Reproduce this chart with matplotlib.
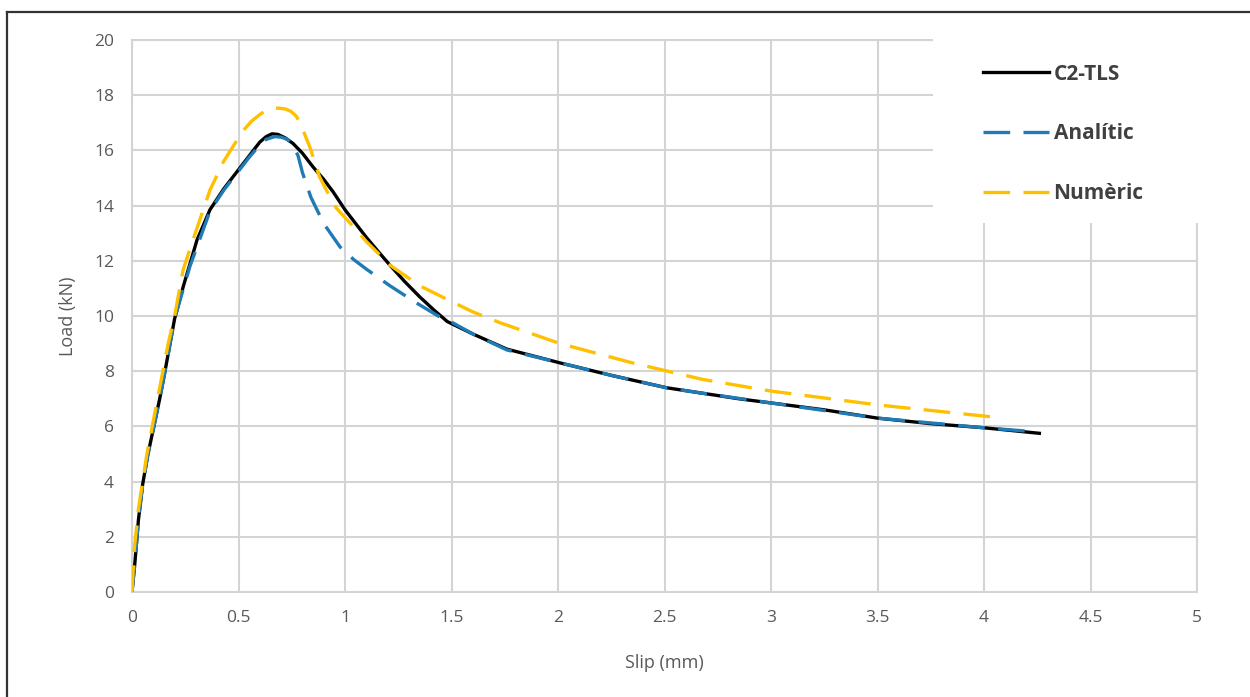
import matplotlib.pyplot as plt
from matplotlib.lines import Line2D
from matplotlib.patches import Rectangle

# data
slip_test = [0, 0.014, 0.03, 0.05, 0.075, 0.1, 0.13, 0.155, 0.2, 0.24, 0.305,
             0.366, 0.43, 0.49, 0.55, 0.6, 0.63, 0.657, 0.685, 0.72, 0.756,
             0.8, 0.85, 0.9, 0.944, 1.0, 1.05, 1.1, 1.16, 1.21, 1.28, 1.35,
             1.42, 1.48, 1.6, 1.76, 2.01, 2.25, 2.51, 2.68, 2.85, 3.0, 3.25,
             3.5, 3.75, 4.0, 4.26]
load_test = [0, 1.1, 2.6, 3.9, 5.0, 5.9, 7.0, 8.0, 9.9, 11.05, 12.75,
             13.85, 14.6, 15.2, 15.8, 16.3, 16.5, 16.6, 16.58, 16.45, 16.25,
             15.9, 15.4, 14.95, 14.5, 13.85, 13.35, 12.85, 12.3, 11.85, 11.25, 10.7,
             10.2, 9.8, 9.35, 8.8, 8.3, 7.85, 7.4, 7.2, 7.0, 6.85, 6.6,
             6.3, 6.1, 5.95, 5.75]

slip_anal = [0, 0.014, 0.03, 0.05, 0.075, 0.1, 0.13, 0.155, 0.2, 0.272, 0.366,
             0.43, 0.49, 0.55, 0.6, 0.63, 0.67, 0.7, 0.73, 0.755, 0.78, 0.80,
             0.84, 0.9, 0.977, 1.04, 1.1, 1.21, 1.33, 1.446, 1.5, 1.6, 1.76,
             2.01, 2.25, 2.51, 2.68, 3.0, 3.5, 4.0, 4.25]
load_anal = [0, 1.1, 2.6, 3.9, 5.0, 5.9, 7.0, 8.0, 9.9, 11.8, 13.8,
             14.55, 15.15, 15.75, 16.2, 16.4, 16.5, 16.48, 16.4, 16.2, 15.8, 15.2,
             14.3, 13.35, 12.5, 12.05, 11.7, 11.1, 10.5, 9.96, 9.78, 9.35, 8.77,
             8.3, 7.85, 7.4, 7.2, 6.85, 6.3, 5.95, 5.8]

slip_num = [0, 0.01, 0.03, 0.07, 0.12, 0.17, 0.2, 0.24, 0.286, 0.366, 0.43,
            0.52, 0.56, 0.6, 0.63, 0.66, 0.69, 0.72, 0.745, 0.77, 0.79, 0.81,
            0.836, 0.88, 0.93, 0.96, 1.02, 1.1, 1.21, 1.35, 1.48, 1.6, 1.73,
            2.01, 2.35, 2.68, 3.0, 3.5, 4.03]
load_num = [0, 1.5, 3.0, 5.0, 7.0, 9.0, 10.0, 11.67, 12.75, 14.56, 15.6,
            16.7, 17.05, 17.3, 17.45, 17.52, 17.53, 17.5, 17.42, 17.25, 17.0, 16.6,
            16.1, 15.05, 14.3, 13.9, 13.4, 12.7, 11.85, 11.1, 10.6, 10.15, 9.75,
            9.0, 8.3, 7.7, 7.28, 6.78, 6.35]

labels = ['C2-TLS', 'Analític', 'Numèric']
colors = ['#000000', '#1f7bb6', '#ffc000']

plt.rcParams['font.family'] = ['Open Sans', 'DejaVu Sans']

fig = plt.figure(figsize=(12.5, 6.97), dpi=100)
ax = fig.add_axes([132 / 1250, 1 - 592 / 697, 1065 / 1250, 552 / 697])

ax.plot(slip_test, load_test, color=colors[0], lw=2.4, label=labels[0], zorder=3)
ax.plot(slip_anal, load_anal, color=colors[1], lw=2.4, dashes=(8, 4),
        label=labels[1], zorder=4)
ax.plot(slip_num, load_num, color=colors[2], lw=2.4, dashes=(8, 4),
        label=labels[2], zorder=5)

ax.set_xlim(0, 5)
ax.set_ylim(0, 20)
ax.set_xticks([0, 0.5, 1, 1.5, 2, 2.5, 3, 3.5, 4, 4.5, 5])
ax.set_xticklabels(['0', '0.5', '1', '1.5', '2', '2.5', '3', '3.5', '4', '4.5', '5'])
ax.set_yticks(range(0, 21, 2))

# grid
ax.grid(True, color='#d4d4d4', lw=1.5, zorder=0)
ax.set_axisbelow(True)
for s in ax.spines.values():
    s.set_color('#d4d4d4')
    s.set_linewidth(1.5)
ax.tick_params(length=0, labelsize=12.5, colors='#595959', pad=13)

ax.set_xlabel('Slip (mm)', fontsize=13, color='#595959', labelpad=20)
ax.set_ylabel('Load (kN)', fontsize=13, color='#595959', labelpad=12)

# white box behind legend, covers the grid
box = Rectangle((933 / 1250, 1 - 223 / 697), 280 / 1250, 200 / 697,
                transform=fig.transFigure, facecolor='white', edgecolor='none',
                zorder=10)
fig.add_artist(box)

leg = fig.legend(loc='upper left', bbox_to_anchor=(964 / 1250, 1 - 45 / 697),
                 frameon=False, fontsize=15, handlelength=3.2,
                 handletextpad=0.2, labelspacing=1.85)
leg.set_zorder(11)
for t in leg.get_texts():
    t.set_fontweight('bold')
    t.set_color('#404040')

# outer frame
fig.add_artist(Line2D([7 / 1250, 7 / 1250], [0, 1 - 12 / 697], color='#333333', lw=1.6))
fig.add_artist(Line2D([7 / 1250, 1], [1 - 12 / 697, 1 - 12 / 697], color='#333333', lw=1.6))

fig.savefig('out.png', dpi=100)
